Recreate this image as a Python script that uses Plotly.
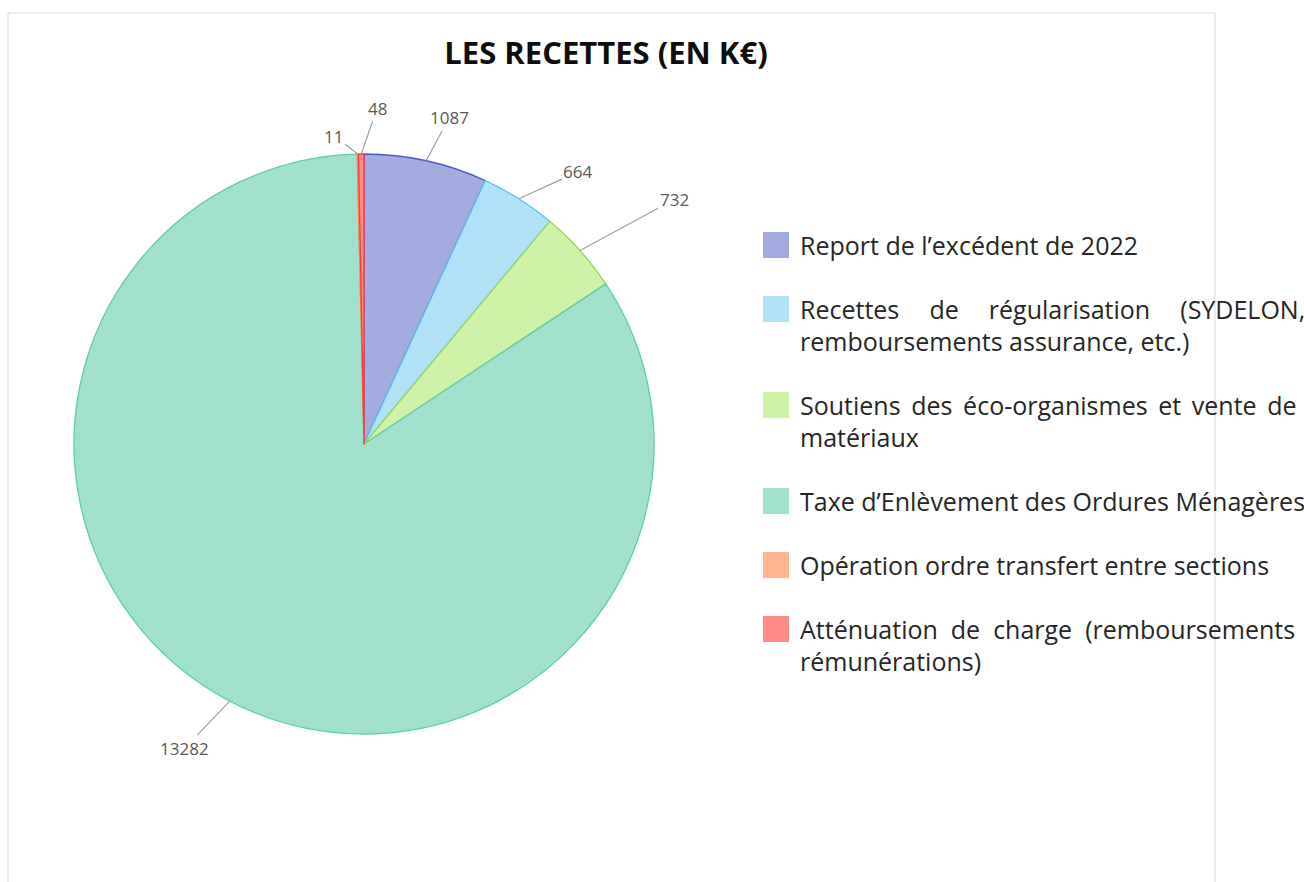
import math
import plotly.graph_objects as go

# Budget lines (k€), in clockwise order from 12 o'clock
labels = [
    "Report de l’excédent de 2022",
    "Recettes de régularisation (SYDELON, remboursements assurance, etc.)",
    "Soutiens des éco-organismes et vente de matériaux",
    "Taxe d’Enlèvement des Ordures Ménagères",
    "Opération ordre transfert entre sections",
    "Atténuation de charge (remboursements rémunérations)",
]
values = [1087, 664, 732, 13282, 11, 48]

# Legend text, broken into lines
legend_lines = [
    ["Report de l’excédent de 2022"],
    ["Recettes de régularisation (SYDELON,", "remboursements assurance, etc.)"],
    ["Soutiens des éco-organismes et vente de", "matériaux"],
    ["Taxe d’Enlèvement des Ordures Ménagères"],
    ["Opération ordre transfert entre sections"],
    ["Atténuation de charge (remboursements", "rémunérations)"],
]
# extra spacing added to each word gap of a justified first line
justify_pad = ["", "\u00a0" * 3 + "\u2009", "\u2009", "", "", "\u00a0"]

# data-label placement: pixel offset of each value label from its slice edge
label_offsets = [(23, -43), (59, -27), (94, -51), (-45, 47), (-24, -18), (16, -46)]

fill_colors = ["#a3abdf", "#afe2f7", "#cef3a6", "#a0e1cd", "#ffb490", "#ff8a85"]
edge_colors = ["#4a5cc6", "#5cc6f0", "#95d85a", "#5fcfa8", "#ff8a3d", "#ff3b3b"]

W, H = 1304, 882
FONT = "Open Sans"

fig = go.Figure()

# Pie geometry: centre (364, 444) px, radius 290 px
cx, cy, r = 364, 444, 290
fig.add_trace(go.Pie(
    labels=labels,
    values=values,
    sort=False,
    direction="clockwise",
    rotation=0,
    marker=dict(colors=fill_colors, line=dict(color=edge_colors, width=1.3)),
    textinfo="none",
    domain=dict(x=[(cx - r) / W, (cx + r) / W], y=[1 - (cy + r) / H, 1 - (cy - r) / H]),
    showlegend=False,
    hoverinfo="label+value+percent",
))

annotations = []
shapes = []

# Value labels with leader lines to the middle of each slice's outer edge
total = sum(values)
cum = 0
for v, (dx, dy) in zip(values, label_offsets):
    mid = (cum + v / 2) / total * 2 * math.pi
    cum += v
    px = cx + r * math.sin(mid)
    py = cy - r * math.cos(mid)
    annotations.append(dict(
        x=px / W, y=1 - py / H, xref="paper", yref="paper",
        text=str(v), showarrow=True, arrowhead=0, arrowwidth=1.2,
        arrowcolor="#a0a0a0", ax=dx, ay=dy, standoff=0,
        font=dict(family=FONT, size=17, color="#595959"),
    ))

# Custom legend: square swatch + text lines
sw_x0, sw = 763, 26
text_x = 798
line_h, item_gap = 32, 32
y = 245
for i, lines in enumerate(legend_lines):
    shapes.append(dict(
        type="rect", xref="paper", yref="paper",
        x0=sw_x0 / W, x1=(sw_x0 + sw) / W,
        y0=1 - (y + sw / 2) / H, y1=1 - (y - sw / 2) / H,
        fillcolor=fill_colors[i], line=dict(width=0),
    ))
    for k, txt in enumerate(lines):
        if k == 0 and justify_pad[i]:
            txt = txt.replace(" ", " " + justify_pad[i])
        annotations.append(dict(
            x=text_x / W, y=1 - (y + k * line_h) / H, xref="paper", yref="paper",
            xanchor="left", yanchor="middle", showarrow=False,
            text=txt, font=dict(family=FONT, size=25, color="#262626"),
        ))
    y += len(lines) * line_h + item_gap

# Outer chart frame
shapes.append(dict(
    type="rect", xref="paper", yref="paper",
    x0=8 / W, x1=1215 / W, y0=-0.05, y1=1 - 13 / H,
    line=dict(color="#d9d9d9", width=1), fillcolor="rgba(0,0,0,0)", layer="above",
))

fig.update_layout(
    width=W, height=H,
    margin=dict(l=0, r=0, t=0, b=0),
    paper_bgcolor="white",
    plot_bgcolor="white",
    title=dict(
        text="<b>LES RECETTES (EN K€)</b>",
        x=606 / W, xanchor="center", y=1 - 53 / H, yanchor="middle",
        font=dict(family=FONT, size=31, color="#0d0d0d"),
    ),
    annotations=annotations,
    shapes=shapes,
)

fig.write_html("out.html")
